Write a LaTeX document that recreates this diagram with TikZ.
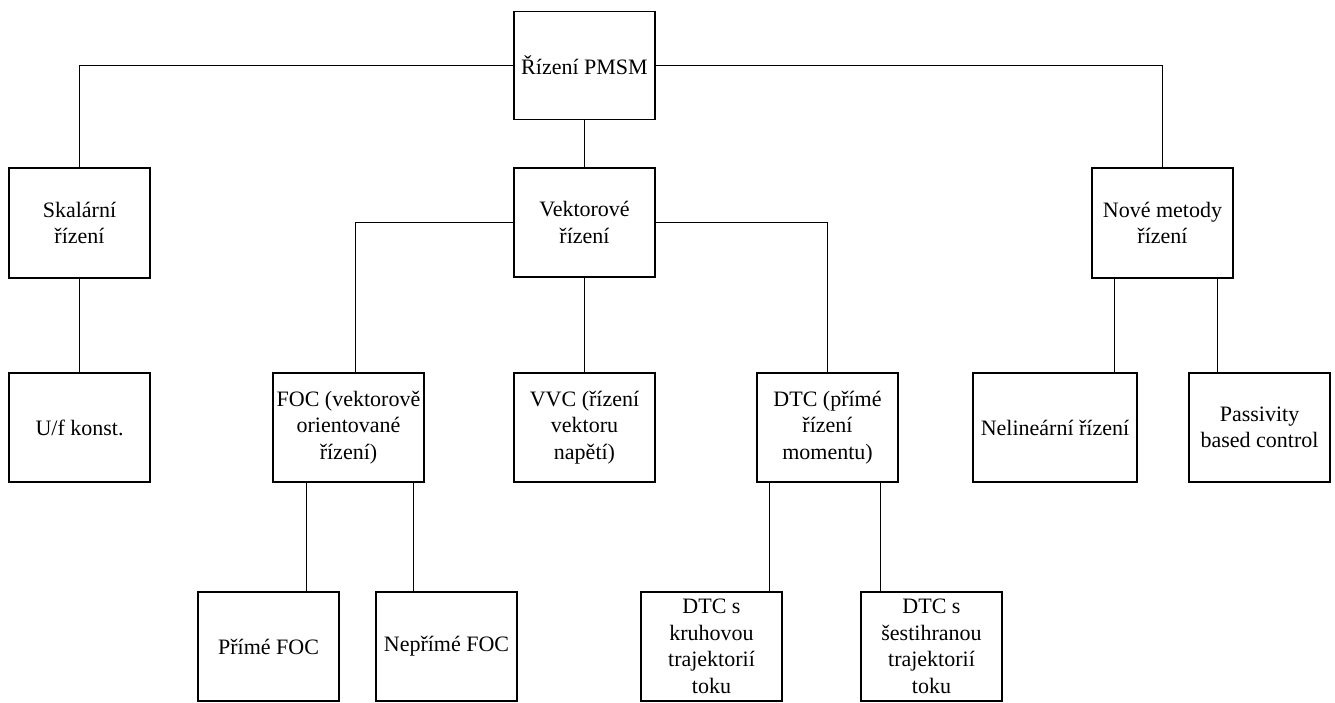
\documentclass[tikz,border=0pt]{standalone}
\usepackage{fontspec}
\setmainfont{Liberation Serif}
\begin{document}
\begin{tikzpicture}[x=1pt,y=-1pt,
  line width=1.2pt,
  box/.style={draw, rectangle, align=center, inner sep=0pt,
    minimum width=141pt, minimum height=109pt,
    font=\fontsize{22}{26.5}\selectfont},
  link/.style={draw, line width=1.2pt}]
\useasboundingbox (0,0) rectangle (1335,703);

% first level
\node[box, minimum height=108pt] (root) at (584.5,65.5) {Řízení PMSM};
\node[box, minimum height=110pt] (skal) at (79.5,223) {Skalární\\řízení};
\node[box] (vekt) at (584.5,222.5) {Vektorové\\řízení};
\node[box, minimum height=110pt] (nove) at (1162.5,223) {Nové metody\\řízení};

% second level
\node[box] (uf) at (79.5,427.5) {U/f konst.};
\node[box, minimum width=151pt] (foc) at (348.5,427.5) {FOC (vektorově\\orientované\\řízení)};
\node[box] (vvc) at (584.5,427.5) {VVC (řízení\\vektoru\\napětí)};
\node[box] (dtc) at (827.5,427.5) {DTC (přímé\\řízení\\momentu)};
\node[box, minimum width=164pt] (nel) at (1055,427.5) {Nelineární řízení};
\node[box] (pass) at (1259.5,427.5) {Passivity\\based control};

% third level
\node[box] (primy) at (268.5,646.5) {Přímé FOC};
\node[box] (neprimy) at (446.5,646.5) {Nepřímé FOC};
\node[box] (kruh) at (711.5,646.5) {DTC s\\kruhovou\\trajektorií\\toku};
\node[box] (sest) at (931.5,646.5) {DTC s\\šestihranou\\trajektorií\\toku};

% connectors
\draw[link] (root.west) -| (skal.north);
\draw[link] (root.east) -| (nove.north);
\draw[link] (root.south) -- (vekt.north);
\draw[link] (skal.south) -- (uf.north);
\draw[link] (vekt.west) -| ([xshift=7pt]foc.north);
\draw[link] (vekt.east) -| (dtc.north);
\draw[link] (vekt.south) -- (vvc.north);
\draw[link] ([xshift=-48pt]nove.south) -- ([xshift=-48pt]nove.south |- nel.north);
\draw[link] ([xshift=55pt]nove.south) -- ([xshift=55pt]nove.south |- pass.north);
\draw[link] ([xshift=-42pt]foc.south) -- ([xshift=-42pt]foc.south |- primy.north);
\draw[link] ([xshift=65pt]foc.south) -- ([xshift=65pt]foc.south |- neprimy.north);
\draw[link] ([xshift=-58pt]dtc.south) -- ([xshift=-58pt]dtc.south |- kruh.north);
\draw[link] ([xshift=53pt]dtc.south) -- ([xshift=53pt]dtc.south |- sest.north);
\end{tikzpicture}
\end{document}
